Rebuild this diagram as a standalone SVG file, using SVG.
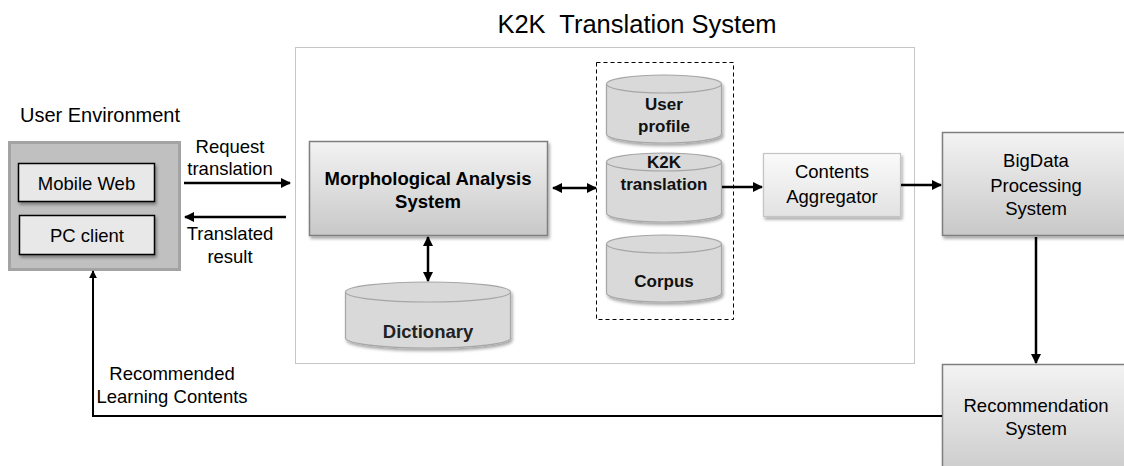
<svg xmlns="http://www.w3.org/2000/svg" width="1124" height="466" viewBox="0 0 1124 466">
<style>
text{font-family:"Liberation Sans",Arial,sans-serif;fill:#000;text-anchor:middle}
.lbl{font-size:18.5px}
.b{font-weight:bold}
.dbt{font-size:17px;font-weight:bold;fill:#111}
.box{fill:url(#gBox);stroke:#7f7f7f;stroke-width:1.5;filter:url(#sh)}
.cyl{fill:#d9d9d9;stroke:#a6a6a6;stroke-width:1.2}
.cylshadow{filter:url(#sh)}
.con{stroke:#000;stroke-width:2.5;fill:none}
</style>
<defs>
<linearGradient id="gBox" x1="0" y1="0" x2="0" y2="1">
<stop offset="0" stop-color="#f3f3f3"/>
<stop offset="1" stop-color="#c8c8c8"/>
</linearGradient>
<linearGradient id="gAgg" x1="0" y1="0" x2="0" y2="1">
<stop offset="0" stop-color="#fafafa"/>
<stop offset="1" stop-color="#e2e2e2"/>
</linearGradient>
<filter id="sh" x="-10%" y="-10%" width="130%" height="140%">
<feDropShadow dx="1.5" dy="2.5" stdDeviation="1.5" flood-color="#000" flood-opacity="0.35"/>
</filter>
<marker id="ah" viewBox="0 0 10 10" refX="9" refY="5" markerWidth="4" markerHeight="4" orient="auto-start-reverse" markerUnits="strokeWidth">
<path d="M0,0 L10,5 L0,10 z" fill="#000"/>
</marker>
</defs>

<rect width="1124" height="466" fill="#fff"/>

<!-- K2K system container -->
<g id="k2k-system">
<rect x="295.5" y="47.5" width="619" height="316" fill="none" stroke="#8c8c8c" stroke-width="1" stroke-dasharray="1,1"/>
<text x="637" y="33" style="font-size:25.5px" xml:space="preserve">K2K  Translation System</text>
</g>

<!-- User environment -->
<g id="user-env">
<text x="100" y="122" style="font-size:20px">User Environment</text>
<rect x="9.5" y="142.5" width="170" height="127" fill="#c0c0c0" stroke="#a3a3a3" stroke-width="3"/>
</g>
<g id="mobile-web">
<rect x="18.5" y="163.5" width="136" height="38" fill="#e8e8e8" stroke="#000" stroke-width="1.5" filter="url(#sh)"/>
<text class="lbl" x="86.5" y="190">Mobile Web</text>
</g>
<g id="pc-client">
<rect x="19.5" y="215.5" width="135" height="39" fill="#e8e8e8" stroke="#000" stroke-width="1.5" filter="url(#sh)"/>
<text class="lbl" x="87" y="242">PC client</text>
</g>

<!-- Morphological Analysis -->
<g id="morph">
<rect class="box" x="309.5" y="141.5" width="238" height="94"/>
<text class="lbl b" x="428" y="185">Morphological Analysis</text>
<text class="lbl b" x="428" y="208">System</text>
</g>

<!-- Dictionary -->
<g id="dictionary">
<g class="cylshadow">
<path class="cyl" d="M345.5,292 L345.5,338 A82.5,10 0 0 0 510.5,338 L510.5,292"/>
<ellipse class="cyl" cx="428" cy="292" rx="82.5" ry="10"/>
</g>
<text class="lbl b" x="428" y="338" style="fill:#222">Dictionary</text>
</g>

<!-- Dashed DB group -->
<g id="db-group">
<rect x="596.5" y="62.5" width="137" height="257" fill="none" stroke="#000" stroke-width="1" stroke-dasharray="4,3"/>
</g>
<g id="user-profile">
<g class="cylshadow">
<path class="cyl" d="M606.5,84 L606.5,134 A57.5,9 0 0 0 721.5,134 L721.5,84"/>
<ellipse class="cyl" cx="664" cy="84" rx="57.5" ry="9"/>
</g>
<text class="dbt" x="664" y="110">User</text>
<text class="dbt" x="664" y="132">profile</text>
</g>
<g id="k2k-translation">
<g class="cylshadow">
<path class="cyl" d="M606.5,162 L606.5,213 A57.5,9 0 0 0 721.5,213 L721.5,162"/>
<ellipse class="cyl" cx="664" cy="162" rx="57.5" ry="9"/>
</g>
<text class="dbt" x="664" y="168">K2K</text>
<text class="dbt" x="664" y="190">translation</text>
</g>
<g id="corpus">
<g class="cylshadow">
<path class="cyl" d="M606.5,244 L606.5,293 A57.5,9 0 0 0 721.5,293 L721.5,244"/>
<ellipse class="cyl" cx="664" cy="244" rx="57.5" ry="9"/>
</g>
<text class="dbt" x="664" y="287">Corpus</text>
</g>

<!-- Contents Aggregator -->
<g id="aggregator">
<rect x="763.5" y="153.5" width="137" height="63" fill="url(#gAgg)" stroke="#c4c4c4" stroke-width="1.2" filter="url(#sh)"/>
<text class="lbl" x="832" y="178">Contents</text>
<text class="lbl" x="832" y="203">Aggregator</text>
</g>

<!-- BigData -->
<g id="bigdata">
<rect class="box" x="942.5" y="132.5" width="190" height="103"/>
<text class="lbl" x="1036" y="167">BigData</text>
<text class="lbl" x="1036" y="192">Processing</text>
<text class="lbl" x="1036" y="215">System</text>
</g>

<!-- Recommendation -->
<g id="recommendation">
<rect class="box" x="942.5" y="364.5" width="190" height="120"/>
<text class="lbl" x="1036" y="412">Recommendation</text>
<text class="lbl" x="1036" y="435">System</text>
</g>

<!-- Connectors -->
<g id="connectors">
<line class="con" x1="184" y1="183" x2="290" y2="183" marker-end="url(#ah)"/>
<line class="con" x1="286" y1="217" x2="185" y2="217" marker-end="url(#ah)"/>
<line class="con" x1="553" y1="188" x2="596" y2="188" marker-start="url(#ah)" marker-end="url(#ah)"/>
<line class="con" x1="428" y1="237" x2="428" y2="281" marker-start="url(#ah)" marker-end="url(#ah)"/>
<line class="con" x1="722" y1="187" x2="762" y2="187" marker-end="url(#ah)"/>
<line class="con" x1="901" y1="185" x2="941" y2="185" marker-end="url(#ah)"/>
<line class="con" x1="1036" y1="237" x2="1036" y2="363" marker-end="url(#ah)"/>
<polyline class="con" points="942,416 93,416 93,271" marker-end="url(#ah)" style="stroke-width:2"/>
</g>

<!-- Connector labels -->
<g id="labels">
<text class="lbl" x="230" y="153">Request</text>
<text class="lbl" x="230" y="175">translation</text>
<text class="lbl" x="230" y="240">Translated</text>
<text class="lbl" x="230" y="263">result</text>
<text class="lbl" x="172" y="380">Recommended</text>
<text class="lbl" x="172" y="403">Learning Contents</text>
</g>
</svg>
